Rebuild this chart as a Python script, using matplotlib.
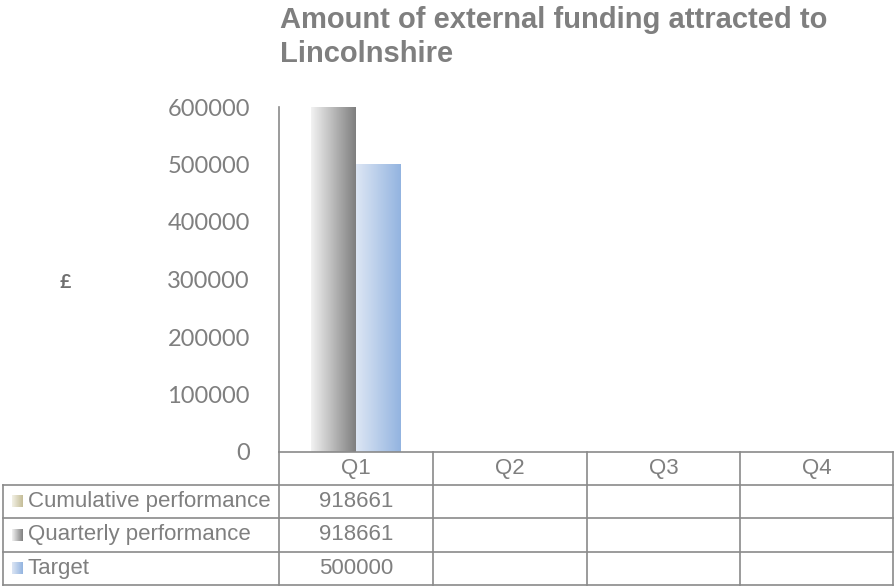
import numpy as np
import matplotlib.pyplot as plt
from matplotlib.colors import LinearSegmentedColormap

plt.rcParams['font.family'] = ['Lato', 'DejaVu Sans']

quarters = ['Q1', 'Q2', 'Q3', 'Q4']
cumulative = [918661, None, None, None]
quarterly = [918661, None, None, None]
target = [500000, None, None, None]
series_names = ['Cumulative performance', 'Quarterly performance', 'Target']
y_ticks = [0, 100000, 200000, 300000, 400000, 500000, 600000]

# gradient colours (left -> right) per series
grad_colors = [('#f3f1e6', '#c4bd97'),
               ('#f2f2f2', '#7f7f7f'),
               ('#dde6f4', '#93b4e0')]

TXT = '#7f7f7f'
LINE = '#8a8a8a'

W, H = 894, 586
AX_L, AX_R, AX_T, AX_B = 279, 894, 107, 452

fig = plt.figure(figsize=(W / 100, H / 100), dpi=100)
ax = fig.add_axes([AX_L / W, 1 - AX_B / H, (AX_R - AX_L) / W, (AX_B - AX_T) / H])
ax.set_xlim(0, len(quarters))
ax.set_ylim(0, y_ticks[-1])


def gradient_rect(axis, x0, x1, y0, y1, c0, c1, z):
    cmap = LinearSegmentedColormap.from_list('g', [c0, c1])
    axis.imshow(np.linspace(0, 1, 128).reshape(1, -1), extent=[x0, x1, y0, y1],
                cmap=cmap, aspect='auto', zorder=z, interpolation='bilinear')


# bars: cumulative sits behind the quarterly bar (same slot), target next to it
bar_w = 0.29
offsets = [-bar_w / 2, -bar_w / 2, bar_w / 2]
all_series = [cumulative, quarterly, target]
for k, (vals, off) in enumerate(zip(all_series, offsets)):
    for i, v in enumerate(vals):
        if v is None:
            continue
        rect = ax.bar(i + 0.5 + off, v, width=bar_w, facecolor='none',
                      edgecolor='none')[0]
        top = min(rect.get_height(), ax.get_ylim()[1])
        gradient_rect(ax, rect.get_x(), rect.get_x() + rect.get_width(), 0, top,
                      *grad_colors[k], z=2 + k)

ax.set_xlim(0, len(quarters))
ax.set_ylim(0, y_ticks[-1])
ax.set_xticks([])
ax.set_yticks(y_ticks)
ax.set_yticklabels([str(t) for t in y_ticks])
ax.tick_params(axis='y', length=0, pad=21, labelsize=17, labelcolor=TXT)
for s in ['top', 'right', 'bottom']:
    ax.spines[s].set_visible(False)
ax.spines['left'].set_color(LINE)
ax.spines['left'].set_linewidth(1.2)

# title and axis label
fig.text(280 / W, 1 - 6 / H, 'Amount of external funding attracted to\nLincolnshire',
         ha='left', va='top', fontsize=21, fontweight='bold', color=TXT,
         family='Liberation Sans', linespacing=1.25)
fig.text(65 / W, 1 - 283 / H, '£', ha='center', va='center', fontsize=14,
         fontweight='bold', color='#6f6f6f')

# data table below the plot
tab = fig.add_axes([0, 0, 1, 1])
tab.set_xlim(0, W)
tab.set_ylim(H, 0)
tab.axis('off')

col_x = [AX_L + i * (AX_R - AX_L) / len(quarters) for i in range(len(quarters) + 1)]
col_x[-1] = W - 1
row_y = [452, 484.5, 518, 551.5, 585]
left_x = 3

tab.plot([col_x[0], col_x[-1]], [row_y[0], row_y[0]], color=LINE, lw=1.2)
for y in row_y[1:]:
    tab.plot([left_x, col_x[-1]], [y, y], color=LINE, lw=1.2)
tab.plot([left_x, left_x], [row_y[1], row_y[-1]], color=LINE, lw=1.2)
for x in col_x:
    tab.plot([x, x], [row_y[0], row_y[-1]], color=LINE, lw=1.2)

for i, q in enumerate(quarters):
    tab.text((col_x[i] + col_x[i + 1]) / 2, (row_y[0] + row_y[1]) / 2, q,
             ha='center', va='center', fontsize=16, color=TXT, family='Liberation Sans')

for k, (name, vals) in enumerate(zip(series_names, all_series)):
    yc = (row_y[k + 1] + row_y[k + 2]) / 2
    gradient_rect(tab, 12, 23, yc + 6, yc - 6, *grad_colors[k], z=3)
    tab.text(28, yc, name, ha='left', va='center', fontsize=16, color=TXT,
             family='Liberation Sans')
    for i, v in enumerate(vals):
        if v is not None:
            tab.text((col_x[i] + col_x[i + 1]) / 2, yc, str(v), ha='center',
                     va='center', fontsize=16, color=TXT, family='Liberation Sans')
tab.set_xlim(0, W)
tab.set_ylim(H, 0)

fig.savefig('out.png', dpi=100)
